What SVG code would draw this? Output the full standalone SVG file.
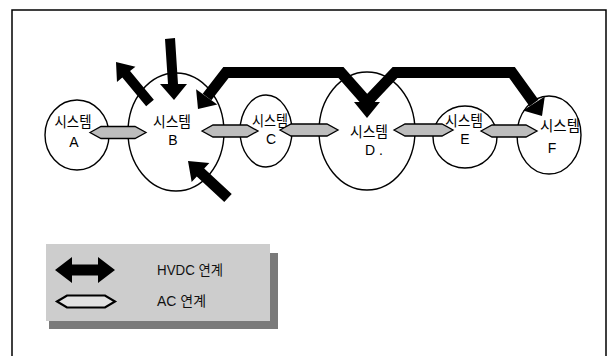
<svg xmlns="http://www.w3.org/2000/svg" width="609" height="356" viewBox="0 0 609 356">
<style>
.sys{fill:#fff;stroke:#000;stroke-width:1.4}
.ko{font-family:"Noto Sans CJK KR","Noto Sans",sans-serif;font-size:15px;fill:#000;text-anchor:middle}
.lt{font-family:"Liberation Sans",Arial,sans-serif;font-size:14px;fill:#000;text-anchor:middle}
.ac{fill:#bdbdbd;stroke:#000;stroke-width:1.3}
.hv{fill:#000;stroke:none}
.leg{font-family:"Liberation Sans","Noto Sans CJK KR",sans-serif;font-size:14px;fill:#111}
</style>
<rect width="609" height="356" fill="#fff"/>
<path d="M12,356 V10 H606 V356" fill="none" stroke="#000" stroke-width="1.5"/>

<g id="sysA"><ellipse class="sys" cx="77" cy="135" rx="32" ry="35"/>
<text class="ko" x="73" y="127" textLength="37" lengthAdjust="spacingAndGlyphs">시스템</text>
<text class="lt" x="74" y="147">A</text></g>
<g id="sysB"><ellipse class="sys" cx="176" cy="132" rx="48" ry="59"/>
<text class="ko" x="172" y="127" textLength="38" lengthAdjust="spacingAndGlyphs">시스템</text>
<text class="lt" x="173" y="145">B</text></g>
<g id="sysC"><ellipse class="sys" cx="266" cy="131" rx="26" ry="36"/>
<text class="ko" x="270" y="126" textLength="36" lengthAdjust="spacingAndGlyphs">시스템</text>
<text class="lt" x="271" y="144">C</text></g>
<g id="sysD"><ellipse class="sys" cx="367" cy="131" rx="48" ry="59"/>
<text class="ko" x="369" y="137" textLength="38" lengthAdjust="spacingAndGlyphs">시스템</text>
<text class="lt" x="374" y="155">D .</text></g>
<g id="sysE"><ellipse class="sys" cx="465" cy="137" rx="32" ry="31"/>
<text class="ko" x="464" y="126" textLength="38" lengthAdjust="spacingAndGlyphs">시스템</text>
<text class="lt" x="465" y="144">E</text></g>
<g id="sysF"><ellipse class="sys" cx="549" cy="135" rx="32" ry="39"/>
<text class="ko" x="560" y="131" textLength="40" lengthAdjust="spacingAndGlyphs">시스템</text>
<text class="lt" x="552" y="153">F</text></g>

<g id="connectors">
<polygon class="ac" points="90,132.5 101,126.5 135,126.5 146,132.5 135,138.5 101,138.5"/>
<polygon class="ac" points="202,131 213,125 247,125 258,131 247,137 213,137"/>
<polygon class="ac" points="280,130 291,124 327,124 338,130 327,136 291,136"/>
<polygon class="ac" points="394,130 405,124 442,124 453,130 442,136 405,136"/>
<polygon class="ac" points="481,131 492,125 526,125 537,131 526,137 492,137"/>
<polyline points="207,97 226,72.5 341,72.5 367,102 395,72.5 512,72.5 534,103" fill="none" stroke="#000" stroke-width="11" stroke-linejoin="miter"/>
<polygon class="hv" points="198,109 196.1,89.2 217.3,104.4"/>
<polygon class="hv" points="367,118 354,102 380,102"/>
<polygon class="hv" points="542,116 544.8,96.4 523,110.4"/>
<polygon class="hv" points="165,39 175,38 178,84 187,84 174,100 160,84 168,84"/>
<polygon class="hv" points="153.85,99.81 130.05,71.11 135.43,66.64 116,62 116.97,81.96 122.35,77.49 146.15,106.19"/>
<polygon class="hv" points="231.73,193.96 204.23,168.46 209.33,162.96 188,161 191.67,182.04 196.77,176.54 224.27,202.04"/>
</g>

<g id="legend">
<rect x="270" y="253" width="8" height="76" fill="#7a7a7a"/>
<rect x="49" y="321" width="229" height="8" fill="#7a7a7a"/>
<rect x="46" y="244" width="224" height="77" fill="#cdcdcd"/>
<polygon class="hv" points="55,270 72,257 72,264.5 98,264.5 98,257 115,270 98,283 98,275.5 72,275.5 72,283"/>
<polygon points="57,301.5 67,295.5 105,295.5 115,301.5 105,307.5 67,307.5" fill="#e2e2e2" stroke="#000" stroke-width="2.2"/>
<text class="leg" x="157" y="275" textLength="66" lengthAdjust="spacingAndGlyphs">HVDC 연계</text>
<text class="leg" x="157" y="306" textLength="49" lengthAdjust="spacingAndGlyphs">AC 연계</text>
</g>
</svg>
